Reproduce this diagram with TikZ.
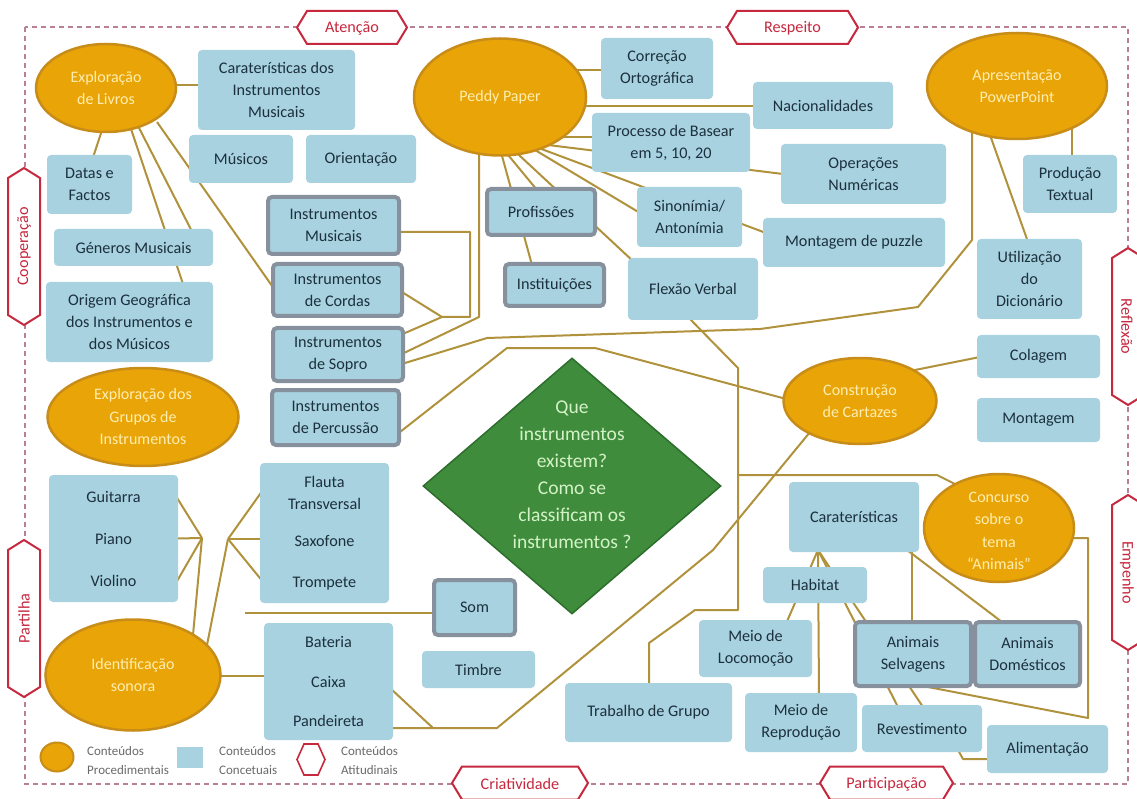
\documentclass[tikz,border=0pt]{standalone}
\usepackage{fontspec}
\setmainfont{Carlito}
\usetikzlibrary{shapes.geometric,calc}
\pgfdeclarelayer{bg}
\pgfsetlayers{bg,main}

\definecolor{boxblue}{RGB}{168,210,223}
\definecolor{boxgray}{RGB}{135,145,158}
\definecolor{boxtext}{RGB}{28,48,62}
\definecolor{procfill}{RGB}{233,164,8}
\definecolor{procedge}{RGB}{200,140,25}
\definecolor{proctext}{RGB}{255,238,175}
\definecolor{qgreen}{RGB}{63,140,60}
\definecolor{qedge}{RGB}{45,110,45}
\definecolor{qtextcol}{RGB}{212,242,200}
\definecolor{linkcol}{RGB}{176,146,60}
\definecolor{attred}{RGB}{198,40,62}
\definecolor{bordercol}{RGB}{185,128,148}
\definecolor{legtext}{RGB}{105,105,105}

% horizontal and vertical hexagon outlines (centre x, centre y, half length)
\newcommand{\atthex}[3]{\filldraw[attline] (#1-#3,#2) -- (#1-#3+10,#2-16.5) -- (#1+#3-10,#2-16.5) -- (#1+#3,#2) -- (#1+#3-10,#2+16.5) -- (#1-#3+10,#2+16.5) -- cycle;}
\newcommand{\attvex}[3]{\filldraw[attline] (#1,#2-#3) -- (#1+16,#2-#3+10) -- (#1+16,#2+#3-10) -- (#1,#2+#3) -- (#1-16,#2+#3-10) -- (#1-16,#2-#3+10) -- cycle;}

\begin{document}
\begin{tikzpicture}[x=1pt,y=-1pt,
  box/.style={rectangle, rounded corners=4pt, fill=boxblue, text=boxtext,
    font=\fontsize{16.2}{22}\selectfont, align=center, inner sep=0pt},
  gbox/.style={box, draw=boxgray, line width=4pt},
  proc/.style={ellipse, fill=procfill, draw=procedge, line width=2.5pt, text=proctext,
    font=\fontsize{16}{22.5}\selectfont, align=center, inner sep=0pt},
  proclabel/.style={text=proctext, font=\fontsize{16}{22.5}\selectfont, align=center, inner sep=0pt},
  link/.style={draw=linkcol, line width=2pt, line join=round},
  attline/.style={draw=attred, fill=white, line width=2pt},
  atttext/.style={text=attred, font=\fontsize{16.2}{18}\selectfont, inner sep=0pt},
  qshape/.style={diamond, fill=qgreen, draw=qedge, line width=1.5pt, inner sep=0pt},
  qlabel/.style={text=qtextcol, font=\fontsize{19.5}{27}\selectfont, align=center, inner sep=0pt},
  legtxt/.style={text=legtext, font=\fontsize{13}{19}\selectfont, align=left, inner sep=0pt, anchor=west},
  border/.style={draw=bordercol, line width=1.2pt, dash pattern=on 5pt off 4pt}
]
\useasboundingbox (0,0) rectangle (1137,799);

% ---------- procedural contents (ellipses)
\node[proc, minimum width=140, minimum height=88] (explivros) at (106,88) {Exploração\\de Livros};
\node[proc, minimum width=172, minimum height=117] (peddy) at (500,97) {Peddy Paper};
\node[proc, minimum width=180, minimum height=106] (apres) at (1017,86) {Apresentação\\PowerPoint};
\node[proc, minimum width=191, minimum height=98] (expgrupos) at (143,417) {Exploração dos\\Grupos de\\Instrumentos};
\node[proc, minimum width=175, minimum height=111] (identif) at (133,675) {Identificação\\sonora};
\node[proc, minimum width=153, minimum height=86] (constr) at (860,401) {Construção\\de Cartazes};
\node[proc, minimum width=150, minimum height=108] (concurso) at (999,528) {};
\node[proclabel] (concursotxt) at (999,531) {Concurso\\sobre o\\tema\\“Animais”};

% ---------- central question
\node[qshape, minimum width=298, minimum height=256] (q) at (572,486) {};
\node[qlabel] (qtxt) at (572,475) {Que\\instrumentos\\existem?\\Como se\\classificam os\\instrumentos ?};

% ---------- conceptual contents (boxes)
\node[box, minimum width=157, minimum height=80] (carinst) at (276.5,90) {Caraterísticas dos\\Instrumentos\\Musicais};
\node[box, minimum width=104, minimum height=48] (musicos) at (241,159) {Músicos};
\node[box, minimum width=110, minimum height=48] (orient) at (361,159) {Orientação};
\node[box, minimum width=85, minimum height=59] (datas) at (89.5,184.5) {Datas e\\Factos};
\node[box, minimum width=159, minimum height=37] (generos) at (133.5,247.5) {Géneros Musicais};
\node[box, minimum width=167, minimum height=80] (origem) at (129.5,322) {Origem Geográfica\\dos Instrumentos e\\dos Músicos};
\node[gbox, minimum width=131, minimum height=57] (imus) at (333.5,225.5) {Instrumentos\\Musicais};
\node[gbox, minimum width=129, minimum height=52] (icord) at (337.5,290) {Instrumentos\\de Cordas};
\node[gbox, minimum width=130, minimum height=53] (isopro) at (338,354.5) {Instrumentos\\de Sopro};
\node[gbox, minimum width=127, minimum height=55] (iperc) at (335.5,417.5) {Instrumentos\\de Percussão};

\node[box, minimum width=112, minimum height=61] (correcao) at (657,68.5) {Correção\\Ortográfica};
\node[box, minimum width=140, minimum height=47] (nacion) at (823,105.5) {Nacionalidades};
\node[box, minimum width=158, minimum height=59] (processo) at (671,142.5) {Processo de Basear\\em 5, 10, 20};
\node[box, minimum width=165, minimum height=60] (operacoes) at (863.5,174) {Operações\\Numéricas};
\node[gbox, minimum width=108, minimum height=46] (profissoes) at (541,212) {Profissões};
\node[box, minimum width=105, minimum height=60] (sinon) at (689.5,217) {Sinonímia/\\Antonímia};
\node[box, minimum width=182, minimum height=49] (puzzle) at (854,242.5) {Montagem de puzzle};
\node[box, minimum width=94, minimum height=58] (producao) at (1070,184) {Produção\\Textual};
\node[box, minimum width=105, minimum height=80] (dicion) at (1029.5,279) {Utilização\\do\\Dicionário};
\node[gbox, minimum width=99, minimum height=42] (instit) at (554.5,285) {Instituições};
\node[box, minimum width=130, minimum height=62] (flexao) at (693,289) {Flexão Verbal};
\node[box, minimum width=123, minimum height=43] (colagem) at (1038.5,356.5) {Colagem};
\node[box, minimum width=123, minimum height=44] (montagem) at (1038.5,420) {Montagem};

\node[box, minimum width=130, minimum height=70] (carat) at (854,517) {Caraterísticas};
\node[box, minimum width=104, minimum height=36] (habitat) at (815,585) {Habitat};
\node[box, minimum width=113, minimum height=57] (locom) at (755.5,648.5) {Meio de\\Locomoção};
\node[box, minimum width=112, minimum height=59] (reprod) at (801,722.5) {Meio de\\Reprodução};
\node[gbox, minimum width=116, minimum height=64] (selv) at (913,654) {Animais\\Selvagens};
\node[gbox, minimum width=105, minimum height=64] (domest) at (1027.5,654) {Animais\\Domésticos};
\node[box, minimum width=120, minimum height=47] (revest) at (922,728.5) {Revestimento};
\node[box, minimum width=121, minimum height=48] (aliment) at (1047.5,749) {Alimentação};
\node[box, minimum width=167, minimum height=59] (trabalho) at (648.5,712.5) {Trabalho de Grupo};

\node[gbox, minimum width=81, minimum height=55] (som) at (474.5,607.5) {Som};
\node[box, minimum width=113, minimum height=37] (timbre) at (478.5,669.5) {Timbre};
\node[box, minimum width=129, minimum height=117, font=\fontsize{16.2}{39.5}\selectfont] (bateria) at (328.5,681.5) {Bateria\\Caixa\\Pandeireta};
\node[box, minimum width=129, minimum height=140] (flauta) at (324.5,533) {Flauta\\Transversal\\[15pt]Saxofone\\[19pt]Trompete};
\node[box, minimum width=129, minimum height=127, font=\fontsize{16.2}{42}\selectfont] (guitarra) at (113.5,538.5) {Guitarra\\Piano\\Violino};

% ---------- junction points of the connectors
\coordinate (brj) at (442,317);
\coordinate (batj) at (433,728);
\coordinate (gj) at (202,538);
\coordinate (fj) at (228,539);
\coordinate (somend) at (245,613);
\coordinate (kj) at ($(carat)+(-36,33)$);

% ---------- frame and connectors behind the shapes
\begin{pgfonlayer}{bg}
\draw[border] (25,27) rectangle (1128,784);

% Exploração de Livros
\draw[link] ($(explivros)+(64,-3)$) -- ($(carinst)+(-76,-5)$);
\draw[link] ($(explivros)+(0,30)$) -- ($(datas)+(3.5,-27)$);
\draw[link] ($(explivros)+(29,32)$) -- ($(generos)+(58.5,-16)$);
\draw[link] ($(explivros)+(22,32)$) -- ($(origem)+(53.5,-38)$);
\draw[link] ($(explivros)+(51,34)$) -- ($(icord)+(-64,-2)$);

% Peddy Paper
\draw[link] ($(peddy)+(70,-27)$) -- ($(correcao)+(-52,1.5)$);
\draw[link] ($(peddy)+(80,9)$) -- ($(nacion)+(-66,0.5)$);
\draw[link] ($(peddy)+(55,40)$) -- ($(processo)+(-76,-5.5)$);
\draw[link] ($(peddy)+(40,47)$) -- ($(operacoes)+(-80.5,0)$);
\draw[link] ($(peddy)+(25,47)$) -- ($(sinon)+(-49.5,-4)$);
\draw[link] ($(peddy)+(20,44)$) -- ($(puzzle)+(-88,-9.5)$);
\draw[link] ($(peddy)+(4,53)$) -- ($(profissoes)+(-4,-22)$);
\draw[link] ($(peddy)+(-1,48)$) -- ($(instit)+(-22.5,-20)$);
\draw[link] ($(peddy)+(5,45)$) -- ($(flexao)+(-59,-27)$);
\draw[link] ($(peddy)+(-21,50)$) -- (479,317) -- ($(isopro)+(67,-2)$);

% instrument groups bracket
\draw[link] ($(imus)+(66,6.5)$) -- (470,232) -- (470,317) -- (brj) -- ($(isopro)+(67,-21.5)$);
\draw[link] ($(icord)+(66,3)$) -- (brj);

% Apresentação PowerPoint
\draw[link] ($(apres)+(55,39)$) -- ($(producao)+(2,-24)$);
\draw[link] ($(apres)+(-27,49)$) -- ($(dicion)+(-1.5,-37)$);
\draw[link] ($(apres)+(-45,40)$) -- (972,240) -- (918,307) -- (760,329) -- (487,338) -- ($(isopro)+(67,8.5)$);

% Construção de Cartazes
\draw[link] ($(constr)+(50,-30)$) -- ($(colagem)+(-58.5,0.5)$);
\draw[link] ($(constr)+(-70,-1)$) -- (595,348) -- (507,348) -- ($(iperc)+(64.5,14.5)$);
\draw[link] ($(constr)+(-45,25)$) -- (713,550) -- (497,728) -- (batj) -- ($(bateria)+(62,46.5)$);
\draw[link] (batj) -- ($(bateria)+(62,7)$);

% Flexão Verbal to Trabalho de Grupo, joined by Concurso
\draw[link] ($(flexao)+(-5,28)$) -- (738,368) -- (738,610) -- (695,610) -- (649,643) -- ($(trabalho)+(0.5,-27)$);
\draw[link] ($(concurso)+(-40,-42)$) -- (937,475) -- (738,475);
\draw[link] ($(concurso)+(68,10)$) -- (1088,538) -- (1088,718) -- ($(selv)+(10,32)$);

% Caraterísticas (animais)
\draw[link] (kj) -- ($(locom)+(31,-26)$);
\draw[link] (kj) -- ($(reprod)+(18,-26)$);
\draw[link] (kj) -- ($(revest)+(-24,-21.5)$);
\draw[link] (kj) -- ($(revest)+(1,-21.5)$);
\draw[link] ($(carat)+(58,33)$) -- ($(selv)+(-1,-32)$);
\draw[link] ($(carat)+(53,33)$) -- ($(domest)+(-25.5,-32)$);
\draw[link] ($(revest)+(36,21.5)$) -- (963,759) -- ($(aliment)+(-58.5,10)$);

% Identificação sonora
\draw[link] ($(guitarra)+(63,-41.5)$) -- (gj);
\draw[link] ($(guitarra)+(63,0)$) -- (gj);
\draw[link] ($(guitarra)+(63,43.5)$) -- (gj);
\draw[link] (gj) -- ($(identif)+(60,-40)$);
\draw[link] ($(flauta)+(-63,-41)$) -- (fj);
\draw[link] ($(flauta)+(-63,6)$) -- (fj);
\draw[link] ($(flauta)+(-63,47)$) -- (fj);
\draw[link] (fj) -- ($(identif)+(74,-30)$);
\draw[link] ($(identif)+(80,1)$) -- ($(bateria)+(-62,-5.5)$);
\draw[link] ($(som)+(-40,5.5)$) -- (somend);
\end{pgfonlayer}

% ---------- attitudinal contents (hexagons on the frame)
\atthex{352}{27.5}{55}
\node[atttext] (aten) at (352,28) {Atenção};
\atthex{792.5}{27.5}{65.5}
\node[atttext] (resp) at (792.5,28) {Respeito};
\atthex{520}{783}{68}
\node[atttext] (criat) at (520,784) {Criatividade};
\atthex{886.5}{783}{66.5}
\node[atttext] (partic) at (886.5,784) {Participação};
\attvex{24}{246.5}{78.5}
\node[atttext, rotate=90] (coop) at (24,246.5) {Cooperação};
\attvex{24}{618.5}{78.5}
\node[atttext, rotate=90] (partil) at (24,618.5) {Partilha};
\attvex{1128}{326.5}{78.5}
\node[atttext, rotate=-90] (reflex) at (1127,326.5) {Reflexão};
\attvex{1128}{572.5}{77.5}
\node[atttext, rotate=-90] (empen) at (1127,572.5) {Empenho};

% ---------- legend
\node[proc, minimum width=33, minimum height=29, line width=2pt] (legproc) at (57,757) {};
\node[legtxt] (legproctxt) at (87,761) {Conteúdos\\Procedimentais};
\node[box, rounded corners=0pt, minimum width=26, minimum height=21] (legbox) at (190,757.5) {};
\node[legtxt] (legboxtxt) at (219,761) {Conteúdos\\Concetuais};
\filldraw[attline, line width=1.6pt] (297,759.5) -- (304,744) -- (318,744) -- (325,759.5) -- (318,775) -- (304,775) -- cycle;
\node[legtxt] (leghextxt) at (341,761) {Conteúdos\\Atitudinais};
\end{tikzpicture}
\end{document}
